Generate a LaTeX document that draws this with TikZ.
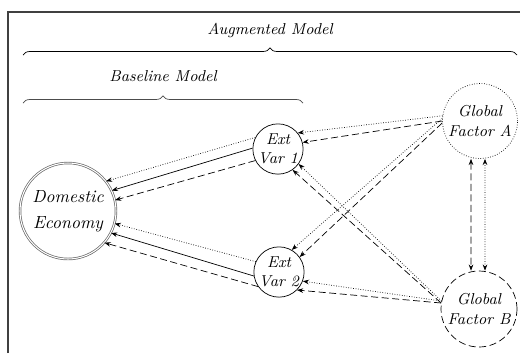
\documentclass[tikz,border=0pt]{standalone}
\usetikzlibrary{arrows.meta,decorations.pathreplacing}
\begin{document}
\begin{tikzpicture}[x=0.02cm,y=-0.02cm,every node/.style={font=\small\itshape},
  var/.style={draw,circle,thin,minimum size=1cm,inner sep=0pt,align=center},
  glob/.style={draw,circle,thin,minimum size=1.5cm,inner sep=0pt,align=center},
  arr/.style={-{Stealth[length=3.5pt,width=2.6pt]},thin},
  bidir/.style={{Stealth[length=3.5pt,width=2.6pt]}-{Stealth[length=3.5pt,width=2.6pt]},thin},
  dsh/.style={dash pattern=on 4pt off 2pt},
  dts/.style={densely dotted}]
  \useasboundingbox (0,0) rectangle (520,353);
  \draw[black!75,line width=0.8pt] (8,353) -- (8,12) -- (520,12);
  % braces
  \coordinate (augL) at (23,55);
  \coordinate (augR) at (517,55);
  \coordinate (basL) at (23,103);
  \coordinate (basR) at (303,103);
  \draw[decorate,decoration={brace,amplitude=4pt}] (augL) -- (augR);
  \draw[decorate,decoration={brace,amplitude=4pt},black!70] (basL) -- (basR);
  \node (aug) at (270,30) {Augmented Model};
  \node (bas) at (163,76) {Baseline Model};
  % nodes
  \node[draw=black!60,circle,double,double distance=0.6pt,minimum size=1.92cm,inner sep=0pt,align=center,font=\normalsize\itshape] (dom) at (68,211) {Domestic\\[3pt]Economy};
  \node[var] (v1) at (278,149) {Ext\\Var 1};
  \node[var] (v2) at (279,272) {Ext\\Var 2};
  \node[glob,dts] (gA) at (480,121) {Global\\Factor A};
  \node[glob,dsh,minimum size=1.52cm] (gB) at (479,309) {Global\\Factor B};
  % external variables to domestic economy
  \draw[arr,dts] (v1.153) -- (dom.38);
  \draw[arr] (v1.178) -- (dom.25);
  \draw[arr,dsh] (v1.207) -- (dom.13);
  \draw[arr,dts] (v2.156) -- (dom.-15);
  \draw[arr] (v2.189) -- (dom.-27);
  \draw[arr,dsh] (v2.215) -- (dom.-41);
  % global factors to external variables
  \draw[arr,dts] (gA.172) -- (v1.39);
  \draw[arr,dsh] (gA.180) -- (v1.15);
  \draw[arr,dts] (gA.176) -- (v2.60);
  \draw[arr,dsh] (gA.183) -- (v2.36);
  \draw[arr,dts] (gB.168) -- (v1.-36);
  \draw[arr,dsh] (gB.171) -- (v1.-55);
  \draw[arr,dts] (gB.168) -- (v2.-21);
  \draw[arr,dsh] (gB.171) -- (v2.-45);
  % between the global factors
  \draw[bidir,dsh] ([xshift=-0.18cm]gA.south) -- ([xshift=-0.16cm]gB.north);
  \draw[bidir,dts] ([xshift=0.1cm]gA.south) -- ([xshift=0.12cm]gB.north);
\end{tikzpicture}
\end{document}
